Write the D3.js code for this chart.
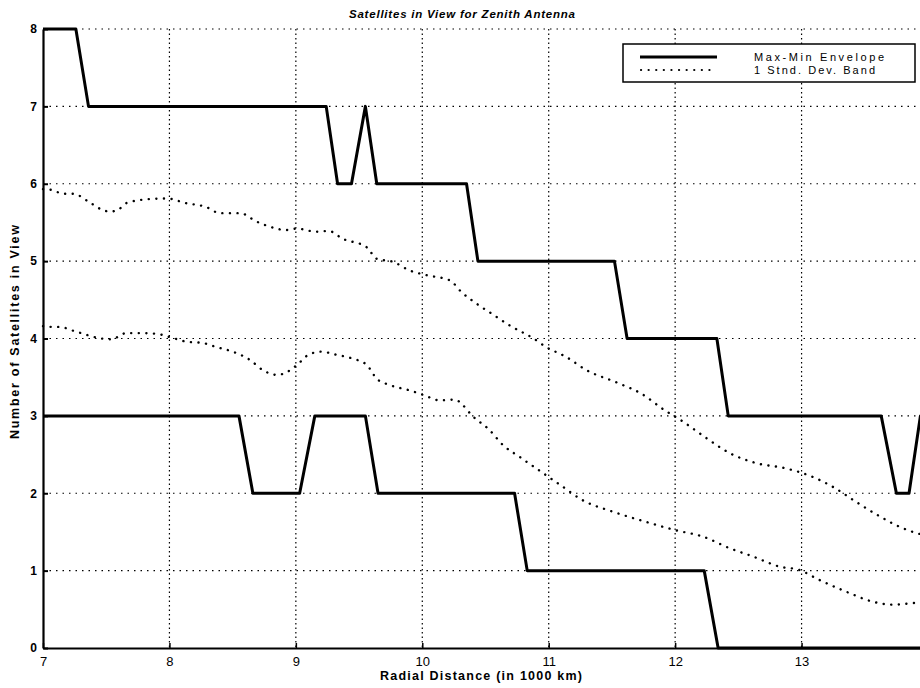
<!DOCTYPE html>
<html>
<head>
  <meta charset="utf-8">
  <style>
    body { margin: 0; background: #fff; }
    svg { display: block; font-family: "Liberation Sans", Arial, sans-serif; }
    .grid line { stroke: #000; stroke-width: 1.2; }
    .axis path, .axis line { stroke: #000; }
    .axis text { fill: #000; }
  </style>
</head>
<body>
  <script src="https://cdn.jsdelivr.net/npm/d3@7"></script>
  <script>
    // chart values
    var xTicks = [7, 8, 9, 10, 11, 12, 13];
    var yTicks = [0, 1, 2, 3, 4, 5, 6, 7, 8];

    // max-min envelope (solid)
    var maxEnvX = [7.0, 7.26, 7.36, 9.24, 9.33, 9.44, 9.55, 9.64, 10.35, 10.44, 11.52, 11.62, 12.33, 12.42, 13.63, 13.75, 13.85, 13.94, 14.0];
    var maxEnvY = [8, 8, 7, 7, 6, 6, 7, 6, 6, 5, 5, 4, 4, 3, 3, 2, 2, 3, 3];
    var minEnvX = [7.0, 8.55, 8.66, 9.03, 9.15, 9.55, 9.65, 10.73, 10.83, 12.23, 12.34, 14.0];
    var minEnvY = [3, 3, 2, 2, 3, 3, 2, 2, 1, 1, 0, 0];

    // 1 standard deviation band (dotted)
    var upperBandX = [7.0, 7.07, 7.16, 7.24, 7.36, 7.46, 7.53, 7.60, 7.66, 7.83, 7.98, 8.13, 8.29, 8.40, 8.56, 8.69, 8.85, 8.91, 9.01, 9.16, 9.26, 9.37, 9.56, 9.64, 9.77, 9.90, 10.03, 10.22, 10.31, 10.43, 10.55, 10.69, 10.88, 10.98, 11.14, 11.30, 11.54, 11.73, 11.92, 12.04, 12.25, 12.43, 12.64, 12.88, 13.09, 13.25, 13.43, 13.62, 13.77, 13.92, 14.0];
    var upperBandY = [5.93, 5.92, 5.87, 5.87, 5.77, 5.67, 5.64, 5.67, 5.75, 5.80, 5.81, 5.75, 5.70, 5.62, 5.62, 5.51, 5.42, 5.40, 5.42, 5.38, 5.39, 5.29, 5.18, 5.03, 4.99, 4.88, 4.82, 4.75, 4.60, 4.45, 4.32, 4.17, 4.00, 3.89, 3.76, 3.59, 3.43, 3.29, 3.07, 2.95, 2.71, 2.52, 2.39, 2.32, 2.21, 2.08, 1.89, 1.70, 1.57, 1.48, 1.45];
    var lowerBandX = [7.0, 7.07, 7.13, 7.24, 7.36, 7.46, 7.54, 7.66, 7.77, 7.90, 8.00, 8.13, 8.27, 8.37, 8.50, 8.64, 8.74, 8.85, 8.91, 9.01, 9.10, 9.20, 9.32, 9.45, 9.56, 9.64, 9.74, 9.90, 10.01, 10.14, 10.26, 10.32, 10.39, 10.53, 10.64, 10.77, 10.92, 11.08, 11.28, 11.51, 11.77, 12.01, 12.22, 12.43, 12.62, 12.83, 12.98, 13.14, 13.35, 13.56, 13.72, 13.88, 14.0];
    var lowerBandY = [4.16, 4.15, 4.15, 4.10, 4.04, 4.00, 3.99, 4.07, 4.07, 4.06, 4.02, 3.96, 3.94, 3.89, 3.83, 3.72, 3.59, 3.53, 3.55, 3.66, 3.79, 3.83, 3.79, 3.74, 3.66, 3.48, 3.40, 3.33, 3.27, 3.20, 3.21, 3.14, 3.01, 2.82, 2.62, 2.47, 2.30, 2.12, 1.90, 1.76, 1.63, 1.52, 1.44, 1.29, 1.18, 1.05, 1.01, 0.88, 0.73, 0.60, 0.56, 0.58, 0.60];

    var legendLabels = ["Max-Min Envelope", "1 Stnd. Dev. Band"];

    // dimensions (plot runs past the right edge, as in the reference)
    var W = 920, H = 688;
    var x0 = 43, x1 = 928, yTop = 29, yBot = 648;

    var xScale = d3.scaleLinear().domain([7, 14]).range([x0, x1]);
    var yScale = d3.scaleLinear().domain([0, 8]).range([yBot, yTop]);

    var svg = d3.select("body").append("svg")
      .attr("width", W)
      .attr("height", H);

    // dotted grid
    var grid = svg.append("g").attr("class", "grid");
    grid.selectAll("line.h")
      .data(yTicks.filter(function(d) { return d > 0; }))
      .enter().append("line")
      .attr("class", "h")
      .attr("x1", x0).attr("x2", x1)
      .attr("y1", function(d) { return yScale(d); })
      .attr("y2", function(d) { return yScale(d); })
      .attr("stroke-dasharray", "1.5,5");
    grid.selectAll("line.v")
      .data(xTicks.filter(function(d) { return d > 7; }))
      .enter().append("line")
      .attr("class", "v")
      .attr("y1", yTop).attr("y2", yBot)
      .attr("x1", function(d) { return xScale(d); })
      .attr("x2", function(d) { return xScale(d); })
      .attr("stroke-dasharray", "1.5,3");

    // axes
    var xAxis = d3.axisBottom(xScale).tickValues(xTicks).tickFormat(d3.format("d"))
      .tickSizeInner(-5).tickSizeOuter(0).tickPadding(9);
    var gx = svg.append("g")
      .attr("class", "axis")
      .attr("transform", "translate(0," + yBot + ")")
      .call(xAxis);
    gx.select(".domain").attr("stroke-width", 2.2);
    gx.selectAll("line").attr("stroke-width", 1.5);
    gx.selectAll("text").attr("font-size", 13).attr("font-family", "Liberation Sans, Arial, sans-serif");

    var yAxis = d3.axisLeft(yScale).tickValues(yTicks).tickFormat(d3.format("d"))
      .tickSizeInner(-5).tickSizeOuter(0).tickPadding(6);
    var gy = svg.append("g")
      .attr("class", "axis")
      .attr("transform", "translate(" + x0 + ",0)")
      .call(yAxis);
    gy.select(".domain").attr("stroke-width", 2.2);
    gy.selectAll("line").attr("stroke-width", 2);
    gy.selectAll("text").attr("font-size", 12).attr("font-weight", "bold").attr("font-family", "Liberation Sans, Arial, sans-serif");

    // curves
    function pts(xs, ys) {
      return xs.map(function(d, i) { return [d, ys[i]]; });
    }
    var stepLine = d3.line()
      .x(function(d) { return xScale(d[0]); })
      .y(function(d) { return yScale(d[1]); });
    var bandLine = d3.line()
      .x(function(d) { return xScale(d[0]); })
      .y(function(d) { return yScale(d[1]); })
      .curve(d3.curveMonotoneX);

    [pts(upperBandX, upperBandY), pts(lowerBandX, lowerBandY)].forEach(function(p) {
      svg.append("path")
        .attr("d", bandLine(p))
        .attr("fill", "none")
        .attr("stroke", "#000")
        .attr("stroke-width", 2.4)
        .attr("stroke-linecap", "round")
        .attr("stroke-dasharray", "0.1,7.5");
    });

    [pts(maxEnvX, maxEnvY), pts(minEnvX, minEnvY)].forEach(function(p) {
      svg.append("path")
        .attr("d", stepLine(p))
        .attr("fill", "none")
        .attr("stroke", "#000")
        .attr("stroke-width", 3)
        .attr("stroke-linejoin", "round");
    });

    // title and labels
    svg.append("text")
      .attr("x", 462).attr("y", 18)
      .attr("text-anchor", "middle")
      .attr("font-size", 11.5)
      .attr("font-weight", "bold")
      .attr("font-style", "italic")
      .attr("textLength", 226)
      .text("Satellites in View for Zenith Antenna");

    svg.append("text")
      .attr("x", 481).attr("y", 680)
      .attr("text-anchor", "middle")
      .attr("font-size", 12.5)
      .attr("font-weight", "bold")
      .attr("textLength", 202)
      .text("Radial Distance (in 1000 km)");

    svg.append("text")
      .attr("transform", "translate(19," + 332 + ") rotate(-90)")
      .attr("text-anchor", "middle")
      .attr("font-size", 12.5)
      .attr("font-weight", "bold")
      .attr("textLength", 214)
      .text("Number of Satellites in View");

    // legend
    var lg = svg.append("g");
    lg.append("rect")
      .attr("x", 623).attr("y", 44)
      .attr("width", 292).attr("height", 38)
      .attr("fill", "#fff")
      .attr("stroke", "#000")
      .attr("stroke-width", 1.5);
    lg.append("line")
      .attr("x1", 640).attr("x2", 717).attr("y1", 57).attr("y2", 57)
      .attr("stroke", "#000").attr("stroke-width", 3);
    lg.append("line")
      .attr("x1", 641).attr("x2", 717).attr("y1", 70).attr("y2", 70)
      .attr("stroke", "#000").attr("stroke-width", 2.2)
      .attr("stroke-linecap", "round")
      .attr("stroke-dasharray", "0.1,7.5");
    lg.selectAll("text.leg")
      .data(legendLabels)
      .enter().append("text")
      .attr("class", "leg")
      .attr("x", 754)
      .attr("y", function(d, i) { return 61 + i * 13; })
      .attr("font-size", 11)
      .attr("textLength", function(d, i) { return i === 0 ? 130 : 121; })
      .text(function(d) { return d; });
  </script>
</body>
</html>
